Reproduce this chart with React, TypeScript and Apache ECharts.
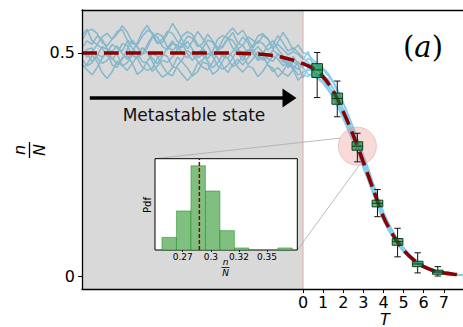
import React, { useEffect, useRef } from 'react';
import * as echarts from 'echarts';

// ---------- data ----------
const T_START = -11;
const T_STEP = 0.25;

// trajectories, metastable part (T = -11 .. 0, step 0.25)
const trajGray1 = [0.512,0.527,0.519,0.538,0.531,0.509,0.503,0.516,0.498,0.486,0.502,0.523,0.547,0.562,0.541,0.536,0.514,0.507,0.521,0.518,0.497,0.489,0.503,0.492,0.511,0.529,0.524,0.506,0.513,0.531,0.546,0.522,0.517,0.499,0.508,0.493,0.484,0.491,0.506,0.497,0.479,0.486,0.471,0.463,0.476];
const trajGray2 = [0.486,0.471,0.478,0.497,0.491,0.502,0.473,0.468,0.489,0.494,0.477,0.452,0.461,0.482,0.498,0.493,0.471,0.454,0.449,0.472,0.486,0.505,0.497,0.481,0.468,0.462,0.479,0.501,0.493,0.488,0.469,0.476,0.494,0.507,0.501,0.483,0.491,0.474,0.458,0.467,0.455,0.448,0.462,0.481,0.468];
const trajGray3 = [0.541,0.553,0.527,0.519,0.536,0.544,0.531,0.548,0.552,0.529,0.521,0.518,0.537,0.551,0.546,0.523,0.531,0.549,0.544,0.526,0.519,0.538,0.533,0.514,0.521,0.542,0.527,0.511,0.516,0.533,0.528,0.509,0.517,0.536,0.529,0.521,0.539,0.531,0.512,0.519,0.508,0.496,0.503,0.497,0.486];
const trajGray4 = [0.494,0.508,0.511,0.489,0.477,0.483,0.501,0.497,0.472,0.461,0.476,0.493,0.512,0.501,0.481,0.459,0.446,0.453,0.467,0.491,0.479,0.466,0.448,0.458,0.479,0.476,0.452,0.461,0.482,0.502,0.491,0.468,0.457,0.471,0.466,0.447,0.459,0.478,0.493,0.486,0.471,0.481,0.467,0.451,0.457];
const trajGray5 = [0.503,0.499,0.481,0.494,0.514,0.508,0.486,0.499,0.521,0.517,0.494,0.489,0.498,0.519,0.538,0.521,0.524,0.543,0.566,0.549,0.528,0.509,0.527,0.548,0.533,0.517,0.494,0.508,0.529,0.544,0.556,0.541,0.551,0.531,0.511,0.527,0.521,0.506,0.518,0.539,0.523,0.504,0.512,0.501,0.489];
const trajGray6 = [0.468,0.474,0.495,0.481,0.456,0.443,0.458,0.482,0.471,0.478,0.496,0.488,0.468,0.461,0.466,0.489,0.497,0.492,0.469,0.466,0.451,0.438,0.452,0.476,0.484,0.499,0.493,0.471,0.464,0.472,0.489,0.509,0.497,0.474,0.486,0.503,0.496,0.472,0.466,0.446,0.458,0.479,0.463,0.439,0.451];
const trajGray7 = [0.528,0.549,0.553,0.544,0.523,0.516,0.531,0.542,0.561,0.547,0.524,0.514,0.499,0.511,0.536,0.544,0.537,0.513,0.506,0.516,0.539,0.548,0.541,0.519,0.511,0.496,0.504,0.531,0.539,0.534,0.511,0.501,0.483,0.504,0.516,0.538,0.543,0.532,0.508,0.524,0.546,0.529,0.506,0.518,0.501];
const trajGray8 = [0.506,0.491,0.502,0.518,0.511,0.493,0.489,0.474,0.486,0.508,0.529,0.513,0.497,0.503,0.488,0.476,0.493,0.511,0.527,0.509,0.514,0.526,0.508,0.489,0.496,0.482,0.467,0.478,0.496,0.489,0.503,0.519,0.536,0.524,0.498,0.487,0.499,0.518,0.527,0.508,0.494,0.467,0.481,0.472,0.444];
const trajGray9 = [0.476,0.462,0.451,0.467,0.488,0.502,0.519,0.511,0.504,0.526,0.511,0.498,0.481,0.477,0.459,0.471,0.484,0.479,0.491,0.508,0.521,0.497,0.483,0.501,0.506,0.487,0.502,0.489,0.471,0.456,0.474,0.486,0.473,0.489,0.502,0.514,0.501,0.487,0.481,0.499,0.486,0.471,0.492,0.476,0.471];

// trajectories, decay part (T = 0.25 .. 8, step 0.25)
const trajWhite1 = [0.488,0.479,0.471,0.462,0.449,0.433,0.411,0.386,0.359,0.331,0.301,0.269,0.238,0.205,0.171,0.142,0.118,0.097,0.079,0.063,0.050,0.039,0.031,0.023,0.018,0.013,0.010,0.008,0.006,0.004,0.003,0.002];
const trajWhite2 = [0.452,0.449,0.441,0.431,0.416,0.398,0.376,0.351,0.325,0.299,0.270,0.241,0.212,0.181,0.150,0.123,0.102,0.083,0.067,0.053,0.042,0.033,0.025,0.019,0.014,0.010,0.008,0.006,0.004,0.003,0.002,0.001];
const trajWhite3 = [0.503,0.471,0.468,0.449,0.441,0.419,0.402,0.371,0.351,0.318,0.294,0.259,0.232,0.195,0.166,0.134,0.114,0.091,0.077,0.058,0.048,0.036,0.030,0.021,0.017,0.012,0.010,0.007,0.005,0.004,0.003,0.002];
const trajWhite4 = [0.461,0.462,0.448,0.443,0.424,0.413,0.386,0.365,0.336,0.313,0.279,0.254,0.219,0.192,0.155,0.131,0.106,0.089,0.070,0.057,0.044,0.035,0.026,0.021,0.015,0.012,0.008,0.007,0.004,0.004,0.002,0.002];
const trajWhite5 = [0.479,0.467,0.464,0.451,0.438,0.421,0.398,0.375,0.347,0.321,0.289,0.262,0.229,0.199,0.163,0.137,0.112,0.094,0.074,0.061,0.047,0.038,0.029,0.022,0.017,0.013,0.009,0.007,0.005,0.004,0.003,0.002];
const trajWhite6 = [0.447,0.458,0.444,0.436,0.420,0.405,0.381,0.358,0.331,0.305,0.275,0.247,0.216,0.186,0.152,0.127,0.104,0.086,0.069,0.055,0.043,0.034,0.026,0.019,0.015,0.011,0.008,0.006,0.004,0.003,0.002,0.001];
const trajWhite7 = [0.497,0.484,0.476,0.466,0.454,0.436,0.415,0.389,0.362,0.333,0.303,0.271,0.241,0.207,0.174,0.144,0.119,0.098,0.080,0.064,0.051,0.040,0.031,0.024,0.018,0.014,0.011,0.008,0.006,0.004,0.003,0.002];
const trajWhite8 = [0.468,0.456,0.453,0.439,0.428,0.409,0.389,0.362,0.339,0.309,0.283,0.250,0.223,0.189,0.158,0.128,0.109,0.087,0.072,0.056,0.046,0.035,0.028,0.020,0.016,0.011,0.009,0.006,0.005,0.003,0.003,0.001];
const trajWhite9 = [0.474,0.473,0.459,0.453,0.434,0.419,0.395,0.372,0.343,0.319,0.286,0.258,0.226,0.196,0.161,0.135,0.111,0.092,0.074,0.059,0.047,0.037,0.028,0.022,0.016,0.013,0.009,0.007,0.005,0.004,0.003,0.002];

const trajGray = [trajGray1, trajGray2, trajGray3, trajGray4, trajGray5, trajGray6, trajGray7, trajGray8, trajGray9];
const trajWhite = [trajWhite1, trajWhite2, trajWhite3, trajWhite4, trajWhite5, trajWhite6, trajWhite7, trajWhite8, trajWhite9];

// mean-field curve (red dashed)
const curveT = [-11, -5, -4, -3, -2, -1.5, -1, -0.5, 0, 0.5, 1, 1.5, 2, 2.5, 3, 3.5, 4, 4.5, 5, 5.5, 6, 6.5, 7, 7.5, 8];
const curveY = [0.5, 0.5, 0.5, 0.499, 0.497, 0.494, 0.49, 0.484, 0.476, 0.465, 0.446, 0.415, 0.368, 0.315, 0.255, 0.193, 0.132, 0.09, 0.058, 0.036, 0.021, 0.012, 0.007, 0.004, 0.002];

// box plots
const boxT = [0.7, 1.7, 2.7, 3.7, 4.7, 5.7, 6.7];
const boxMin = [0.400, 0.357, 0.256, 0.133, 0.043, 0.007, 0.000];
const boxQ1 = [0.445, 0.385, 0.282, 0.155, 0.069, 0.021, 0.004];
const boxMed = [0.462, 0.398, 0.291, 0.163, 0.077, 0.027, 0.009];
const boxQ3 = [0.476, 0.410, 0.301, 0.170, 0.084, 0.033, 0.013];
const boxMax = [0.501, 0.437, 0.320, 0.194, 0.107, 0.052, 0.021];

// inset histogram
const histEdges = [0.2515, 0.2644, 0.2773, 0.2902, 0.3031, 0.3160, 0.3289, 0.3418, 0.3547, 0.3676];
const histPdf = [4.3, 13.3, 28.7, 20.1, 6.6, 0.7, 0, 0, 0.7];
const histMedian = 0.2848;
const insetTicks = [0.27, 0.295, 0.32, 0.345];
const insetTickLabels = ['0.27', '0.3', '0.32', '0.35'];

const mainXTicks = [0, 1, 2, 3, 4, 5, 6, 7];
const mainYTicks = [0, 0.5];

const zoomCenter = [2.7, 0.291];
const arrowData = [-10.61, -0.33, 0.399];

// ---------- layout ----------
const MAIN = { left: 82, top: 10, width: 381, height: 279 };
const INSET = { left: 155, top: 158.7, width: 142.3, height: 91.3 };
const FONT = 'DejaVu Sans';

export default function App() {
  const ref = useRef<HTMLDivElement>(null);
  useEffect(() => {
    if (!ref.current) return;
    const chart = echarts.init(ref.current, undefined, { renderer: 'svg' });

    const trajSeries = trajGray.map((g, k) => {
      const vals = g.concat(trajWhite[k]);
      return {
        type: 'line',
        xAxisIndex: 0, yAxisIndex: 0,
        data: vals.map((v, i) => [T_START + i * T_STEP, v]),
        symbol: 'none',
        lineStyle: { color: '#87ceeb', width: 1.5 },
        z: 1,
        silent: true,
      };
    });

    const option: any = {
      animation: false,
      grid: [
        { left: MAIN.left, top: MAIN.top, width: MAIN.width, height: MAIN.height, outerBoundsMode: 'none', containLabel: false },
        { left: INSET.left, top: INSET.top, width: INSET.width, height: INSET.height, outerBoundsMode: 'none', containLabel: false },
      ],
      xAxis: [
        {
          type: 'value', gridIndex: 0, min: -11, max: 7.955, position: 'bottom', z: 10,
          axisLine: { show: true, onZero: false, lineStyle: { color: '#000', width: 1.3 } },
          axisTick: { show: true, customValues: mainXTicks, length: 4, lineStyle: { color: '#000', width: 1 } },
          axisLabel: { customValues: mainXTicks, fontSize: 16, color: '#000', fontFamily: FONT, margin: 5 },
          splitLine: { show: false },
        },
        {
          type: 'value', gridIndex: 0, min: -11, max: 7.955, position: 'top', z: 10,
          axisLine: { show: true, onZero: false, lineStyle: { color: '#000', width: 1.3 } },
          axisTick: { show: false }, axisLabel: { show: false }, splitLine: { show: false },
        },
        {
          type: 'value', gridIndex: 1, min: 0.2453, max: 0.372, z: 12,
          axisLine: { show: false, onZero: false },
          axisTick: { show: true, customValues: insetTicks, length: 2, lineStyle: { color: '#000', width: 0.8 } },
          axisLabel: {
            customValues: insetTicks, fontSize: 9, color: '#000', fontFamily: FONT, margin: 2,
            formatter: (v: number) => {
              const i = insetTicks.findIndex((t) => Math.abs(t - v) < 1e-6);
              return i >= 0 ? insetTickLabels[i] : '';
            },
          },
          splitLine: { show: false },
        },
      ],
      yAxis: [
        {
          type: 'value', gridIndex: 0, min: -0.0291, max: 0.5963, z: 10,
          axisLine: { show: true, onZero: false, lineStyle: { color: '#000', width: 1.3 } },
          axisTick: { show: true, customValues: mainYTicks, length: 4, lineStyle: { color: '#000', width: 1 } },
          axisLabel: {
            customValues: mainYTicks, fontSize: 16, color: '#000', fontFamily: FONT, margin: 7,
            formatter: (v: number) => (v === 0 ? '0' : String(v)),
          },
          splitLine: { show: false },
        },
        {
          type: 'value', gridIndex: 1, min: 0, max: 31.1, z: 12,
          axisLine: { show: false, onZero: false }, axisTick: { show: false }, axisLabel: { show: false }, splitLine: { show: false },
        },
      ],
      series: [
        ...trajSeries,
        // gray metastable region + pink line at T = 0
        {
          type: 'custom', xAxisIndex: 0, yAxisIndex: 0, z: 2, silent: true, clip: false,
          data: [[0, 0]],
          renderItem: (params: any, api: any) => {
            const cs = params.coordSys;
            const x0 = api.coord([api.value(0), 0])[0];
            return {
              type: 'group',
              children: [
                { type: 'rect', shape: { x: cs.x, y: cs.y, width: x0 - cs.x, height: cs.height }, style: { fill: 'rgba(128,128,128,0.3)' } },
                { type: 'line', shape: { x1: x0, y1: cs.y, x2: x0, y2: cs.y + cs.height }, style: { stroke: 'rgba(240,128,128,0.6)', lineWidth: 1 } },
              ],
            };
          },
        },
        // zoom circle and connector lines
        {
          type: 'custom', xAxisIndex: 0, yAxisIndex: 0, z: 3, silent: true, clip: false,
          data: [zoomCenter],
          renderItem: (params: any, api: any) => {
            const c = api.coord([api.value(0), api.value(1)]);
            const r = 19;
            const a1 = Math.atan2(-8.5, -18);
            const a2 = Math.atan2(19, 2);
            const p1 = [c[0] + r * Math.cos(a1), c[1] + r * Math.sin(a1)];
            const p2 = [c[0] + r * Math.cos(a2), c[1] + r * Math.sin(a2)];
            return {
              type: 'group',
              children: [
                { type: 'circle', shape: { cx: c[0], cy: c[1], r }, style: { fill: 'rgba(240,128,128,0.3)', stroke: 'rgba(200,140,140,0.4)', lineWidth: 1 } },
                { type: 'line', shape: { x1: INSET.left, y1: INSET.top, x2: p1[0], y2: p1[1] }, style: { stroke: '#aaaaaa', lineWidth: 0.8 } },
                { type: 'line', shape: { x1: INSET.left + INSET.width, y1: INSET.top + INSET.height, x2: p2[0], y2: p2[1] }, style: { stroke: '#aaaaaa', lineWidth: 0.8 } },
              ],
            };
          },
        },
        // red dashed curve
        {
          type: 'line', xAxisIndex: 0, yAxisIndex: 0, z: 4, silent: true,
          data: curveT.map((t, i) => [t, curveY[i]]),
          symbol: 'none', smooth: 0.3,
          lineStyle: { color: '#8b0000', width: 3.6, type: [15, 7] },
        },
        // box plots
        {
          type: 'custom', xAxisIndex: 0, yAxisIndex: 0, z: 5, silent: true,
          data: boxT.map((t, i) => [t, boxMin[i], boxQ1[i], boxMed[i], boxQ3[i], boxMax[i]]),
          encode: { x: 0, y: [1, 2, 3, 4, 5] },
          renderItem: (params: any, api: any) => {
            const x = api.value(0);
            const pMin = api.coord([x, api.value(1)]);
            const pQ1 = api.coord([x, api.value(2)]);
            const pMed = api.coord([x, api.value(3)]);
            const pQ3 = api.coord([x, api.value(4)]);
            const pMax = api.coord([x, api.value(5)]);
            const hw = api.size([0.53, 0])[0] / 2;
            const cap = hw * 0.6;
            const cx = pMed[0];
            const st = { stroke: '#111', lineWidth: 1 };
            return {
              type: 'group',
              children: [
                { type: 'line', shape: { x1: cx, y1: pMin[1], x2: cx, y2: pQ1[1] }, style: st },
                { type: 'line', shape: { x1: cx, y1: pQ3[1], x2: cx, y2: pMax[1] }, style: st },
                { type: 'line', shape: { x1: cx - cap, y1: pMin[1], x2: cx + cap, y2: pMin[1] }, style: st },
                { type: 'line', shape: { x1: cx - cap, y1: pMax[1], x2: cx + cap, y2: pMax[1] }, style: st },
                { type: 'rect', shape: { x: cx - hw, y: pQ3[1], width: 2 * hw, height: pQ1[1] - pQ3[1] }, style: { fill: 'rgba(0,128,40,0.6)', stroke: '#0d3b1c', lineWidth: 1 } },
                { type: 'line', shape: { x1: cx - hw, y1: pMed[1], x2: cx + hw, y2: pMed[1] }, style: { stroke: '#0d3b1c', lineWidth: 1 } },
              ],
            };
          },
        },
        // arrow
        {
          type: 'custom', xAxisIndex: 0, yAxisIndex: 0, z: 6, silent: true, clip: false,
          data: [arrowData],
          renderItem: (params: any, api: any) => {
            const p0 = api.coord([api.value(0), api.value(2)]);
            const p1 = api.coord([api.value(1), api.value(2)]);
            const hl = 14, hh = 9.5;
            return {
              type: 'group',
              children: [
                { type: 'line', shape: { x1: p0[0], y1: p0[1], x2: p1[0] - hl + 1, y2: p1[1] }, style: { stroke: '#000', lineWidth: 3.3 } },
                { type: 'polygon', shape: { points: [[p1[0], p1[1]], [p1[0] - hl, p1[1] - hh], [p1[0] - hl, p1[1] + hh]] }, style: { fill: '#000' } },
              ],
            };
          },
        },
        // inset background
        {
          type: 'custom', xAxisIndex: 2, yAxisIndex: 1, z: 7, silent: true, clip: false,
          data: [[0.3, 0]],
          renderItem: (params: any) => {
            const cs = params.coordSys;
            return { type: 'rect', shape: { x: cs.x, y: cs.y, width: cs.width, height: cs.height }, style: { fill: '#fff', stroke: '#000', lineWidth: 1 } };
          },
        },
        // histogram
        {
          type: 'custom', xAxisIndex: 2, yAxisIndex: 1, z: 8, silent: true,
          data: histPdf.map((p, i) => [histEdges[i], histEdges[i + 1], p]),
          encode: { x: [0, 1], y: 2 },
          renderItem: (params: any, api: any) => {
            const h = api.value(2);
            if (!h) return null;
            const a = api.coord([api.value(0), 0]);
            const b = api.coord([api.value(1), h]);
            return { type: 'rect', shape: { x: a[0], y: b[1], width: b[0] - a[0], height: a[1] - b[1] }, style: { fill: 'rgb(127,191,127)', stroke: 'rgba(0,128,0,0.55)', lineWidth: 0.8 } };
          },
        },
        // median dashed line
        {
          type: 'line', xAxisIndex: 2, yAxisIndex: 1, z: 9, silent: true,
          data: [[histMedian, 0], [histMedian, 31.1]],
          symbol: 'none',
          lineStyle: { color: '#8b0000', width: 1.5, type: [4, 2] },
        },
      ],
      graphic: [
        {
          type: 'text', x: 194, y: 115, z: 20, silent: true,
          style: { text: 'Metastable state', fontSize: 17, fontFamily: FONT, fill: '#111', align: 'center', verticalAlign: 'middle', textAlign: 'center', textVerticalAlign: 'middle' },
        },
        {
          type: 'text', x: 385, y: 311, z: 20, silent: true,
          style: { text: 'T', fontSize: 16, fontStyle: 'italic', fontFamily: FONT, fill: '#000', align: 'center', verticalAlign: 'top', textAlign: 'center', textVerticalAlign: 'top' },
        },
        {
          type: 'text', x: 423, y: 47, z: 20, silent: true,
          style: {
            text: '{p|(}{i|a}{p|)}',
            rich: {
              p: { fontSize: 29, fontFamily: 'DejaVu Serif', fill: '#000' },
              i: { fontSize: 29, fontFamily: 'DejaVu Serif', fontStyle: 'italic', fill: '#000' },
            },
            align: 'center', verticalAlign: 'middle', textAlign: 'center', textVerticalAlign: 'middle',
          },
        },
        {
          type: 'group', x: 29.5, y: 150, rotation: Math.PI / 2, z: 20, silent: true,
          children: [
            { type: 'text', x: 0, y: -2, z: 20, style: { text: 'n', fontSize: 16, fontStyle: 'italic', fontFamily: FONT, fill: '#000', align: 'center', verticalAlign: 'bottom', textAlign: 'center', textVerticalAlign: 'bottom' } },
            { type: 'line', z: 20, shape: { x1: -8, y1: 0, x2: 8, y2: 0 }, style: { stroke: '#000', lineWidth: 1.3 } },
            { type: 'text', x: 0, y: 2, z: 20, style: { text: 'N', fontSize: 16, fontStyle: 'italic', fontFamily: FONT, fill: '#000', align: 'center', verticalAlign: 'top', textAlign: 'center', textVerticalAlign: 'top' } },
          ],
        },
        {
          type: 'text', x: 147.5, y: 205, rotation: Math.PI / 2, z: 20, silent: true,
          style: { text: 'Pdf', fontSize: 10, fontFamily: FONT, fill: '#000', align: 'center', verticalAlign: 'middle', textAlign: 'center', textVerticalAlign: 'middle' },
        },
        {
          type: 'group', x: 225.5, y: 267.5, z: 20, silent: true,
          children: [
            { type: 'text', x: 0, y: -0.8, z: 20, style: { text: 'n', fontSize: 9, fontStyle: 'italic', fontFamily: FONT, fill: '#000', align: 'center', verticalAlign: 'bottom', textAlign: 'center', textVerticalAlign: 'bottom' } },
            { type: 'line', z: 20, shape: { x1: -4, y1: 0, x2: 4, y2: 0 }, style: { stroke: '#000', lineWidth: 0.8 } },
            { type: 'text', x: 0, y: 0.8, z: 20, style: { text: 'N', fontSize: 9, fontStyle: 'italic', fontFamily: FONT, fill: '#000', align: 'center', verticalAlign: 'top', textAlign: 'center', textVerticalAlign: 'top' } },
          ],
        },
      ],
    };

    chart.setOption(option);
    return () => chart.dispose();
  }, []);

  return <div ref={ref} style={{ position: 'absolute', left: 0, top: 0, width: 463, height: 327 }} />;
}
